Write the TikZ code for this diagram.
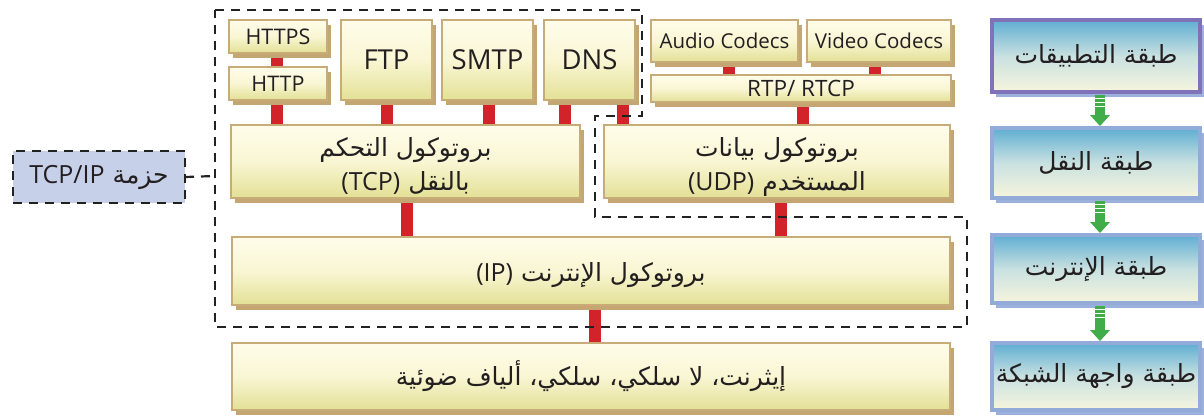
\documentclass[tikz,border=0pt]{standalone}
\usepackage{fontspec}
\setmainfont{Open Sans}
\newfontfamily\arabicfont[Script=Arabic]{DejaVu Sans}
\newfontfamily\latinfont{Open Sans}
\TeXXeTstate=1
\usetikzlibrary{shadows,calc}
\pgfdeclarelayer{bg}
\pgfsetlayers{bg,main}
\definecolor{ybord}{HTML}{C8AC78}
\definecolor{yshad}{HTML}{C4A672}
\definecolor{ytop}{HTML}{FFFDEA}
\definecolor{ymid}{HTML}{F9F6D4}
\definecolor{ybot}{HTML}{E3E096}
\definecolor{redc}{HTML}{D2232A}
\definecolor{ltop}{HTML}{5FAED3}
\definecolor{lmid}{HTML}{C9E1E0}
\definecolor{lbot}{HTML}{F7F5DE}
\definecolor{lbord}{HTML}{93ABD9}
\definecolor{lshad}{HTML}{9BB0DA}
\definecolor{lpurp}{HTML}{7F72B8}
\definecolor{tcpipc}{HTML}{C7D0E9}
\definecolor{greenar}{HTML}{41AD49}
\definecolor{dashc}{HTML}{222222}
\definecolor{txt}{HTML}{231F20}
\newcommand\lat[1]{{\latinfont\fontsize{25}{30}\selectfont #1}}
\newcommand\lowered[2]{\raisebox{#1}[\height][\depth]{#2}}
\newcommand\twolines[3]{\lowered{#1}{\begin{tabular}{@{}c@{}}#2\\#3\end{tabular}}}
\tikzset{
  ybox/.style={draw=ybord, line width=2pt, top color=ytop, bottom color=ybot, middle color=ymid,
    inner sep=0pt, outer sep=0pt, anchor=north west, align=center, text=txt,
    drop shadow={shadow xshift=4pt, shadow yshift=-5pt, fill=yshad, opacity=1}},
  lbox/.style={draw=lbord, line width=3.5pt, top color=ltop, bottom color=lbot, middle color=lmid,
    inner sep=0pt, outer sep=0pt, anchor=north west, align=center, text=txt,
    minimum width=208pt,
    drop shadow={shadow xshift=4pt, shadow yshift=-5pt, fill=lshad, opacity=1},
    font=\arabicfont\fontsize{25}{30}\selectfont},
  redline/.style={draw=redc, line width=12pt},
  dashline/.style={draw=dashc, line width=2.2pt, dash pattern=on 9pt off 7pt},
  lsmall/.style={font=\fontsize{21.5}{24}\selectfont},
  lbig/.style={font=\fontsize{27.5}{30}\selectfont},
  lcodec/.style={font=\fontsize{20.5}{24}\selectfont},
  lrtp/.style={font=\fontsize{22.5}{24}\selectfont},
  arab/.style={font=\arabicfont\fontsize{25}{34}\selectfont},
}
\newcommand\garrow[2]{%
  \fill[greenar] ($(#1.south)+(-1,3)$) rectangle ($(#2.north)+(9,-13)$);
  \fill[greenar] ($(#2.north)+(-6,-13)$) -- ($(#2.north)+(14,-13)$) -- ($(#2.north)+(4,-2)$) -- cycle;
  \foreach \d in {6,10,14} \draw[white, line width=0.8pt] ($(#1.south)+(-1,\d)$) -- ++(10,0);
}
\begin{document}
\begin{tikzpicture}[x=1pt,y=-1pt]
\useasboundingbox (0,0) rectangle (1204,416);
% application protocol boxes
\node[ybox, lsmall, minimum width=98pt, minimum height=33pt] (https) at (229,20) {HTTPS};
\node[ybox, lsmall, minimum width=98pt, minimum height=33pt] (http) at (229,67) {HTTP};
\node[ybox, lbig, minimum width=91pt, minimum height=80pt] (ftp) at (341,20) {FTP};
\node[ybox, lbig, minimum width=91pt, minimum height=80pt] (smtp) at (442,20) {SMTP};
\node[ybox, lbig, minimum width=91pt, minimum height=80pt] (dns) at (544,20) {DNS};
\node[ybox, lcodec, minimum width=147pt, minimum height=42pt] (audio) at (651,20) {Audio Codecs};
\node[ybox, lcodec, minimum width=144pt, minimum height=42pt] (video) at (807,20) {Video Codecs};
\node[ybox, lrtp, minimum width=300pt, minimum height=27pt] (rtp) at (651,75) {RTP/ RTCP};
% transport
\node[ybox, arab, minimum width=349pt, minimum height=73pt] (tcp) at (231,125)
  {\twolines{-5pt}{\beginR بروتوكول التحكم\endR}{\beginR بالنقل \lat{(TCP)}\endR}};
\node[ybox, arab, minimum width=346pt, minimum height=73pt] (udp) at (604,125)
  {\twolines{-5pt}{\beginR بروتوكول بيانات\endR}{\beginR المستخدم \lat{(UDP)}\endR}};
% internet
\node[ybox, arab, minimum width=718pt, minimum height=68pt] (ip) at (232,237)
  {\lowered{-4pt}{\beginR بروتوكول الإنترنت \lat{(IP)}\endR}};
% network
\node[ybox, arab, minimum width=718pt, minimum height=67pt] (phys) at (232,343)
  {\beginR إيثرنت، لا سلكي، سلكي، ألياف ضوئية\endR};
% layers
\node[lbox, draw=lpurp, minimum height=72pt] (app) at (992,20) {\beginR طبقة التطبيقات\endR};
\node[lbox, minimum height=70pt] (tr) at (992,128) {\beginR طبقة النقل\endR};
\node[lbox, minimum height=68pt] (inet) at (992,235) {\beginR طبقة الإنترنت\endR};
\node[lbox, minimum height=67pt] (net) at (992,343) {\beginR طبقة واجهة الشبكة\endR};
% TCP/IP suite box
\node[dashline, fill=tcpipc, inner sep=0pt, outer sep=0pt, anchor=north west,
  minimum width=172pt, minimum height=52pt, arab, text=txt] (suite) at (13,151)
  {\beginR حزمة \lat{TCP/IP}\endR};
\coordinate (outl) at (215,176);
% red connectors
\begin{pgfonlayer}{bg}
\draw[redline] ([xshift=-1pt]https.south) -- ([xshift=-1pt]https.south |- http.north);
\draw[redline] ([xshift=-1pt]http.south) -- ([xshift=-1pt]http.south |- tcp.north);
\draw[redline] (ftp.south) -- (ftp.south |- tcp.north);
\draw[redline] ([xshift=1pt]smtp.south) -- ([xshift=1pt]smtp.south |- tcp.north);
\draw[redline] ([xshift=-25pt]dns.south) -- ([xshift=-25pt]dns.south |- tcp.north);
\draw[redline] ([xshift=33pt]dns.south) -- ([xshift=33pt]dns.south |- udp.north);
\draw[redline] ([xshift=4.5pt]audio.south) -- ([xshift=4.5pt]audio.south |- rtp.north);
\draw[redline] ([xshift=-4pt]video.south) -- ([xshift=-4pt]video.south |- rtp.north);
\draw[redline] ([xshift=2pt]rtp.south) -- ([xshift=2pt]rtp.south |- udp.north);
\draw[redline] ([xshift=1.5pt]tcp.south) -- ([xshift=1.5pt]tcp.south |- ip.north);
\draw[redline] ([xshift=4pt]udp.south) -- ([xshift=4pt]udp.south |- ip.north);
\draw[redline] ([xshift=4pt]ip.south) -- ([xshift=4pt]ip.south |- phys.north);
\end{pgfonlayer}
% dashed outline
\draw[dashline] (215,10) -- (642,10) -- (642,116) -- (595,116) -- (595,217) -- (967,217)
  -- (967,327) -- (215,327) -- cycle;
\draw[dashline] (suite.east) -- (outl);
% green arrows
\garrow{app}{tr}
\garrow{tr}{inet}
\garrow{inet}{net}
\end{tikzpicture}
\end{document}
